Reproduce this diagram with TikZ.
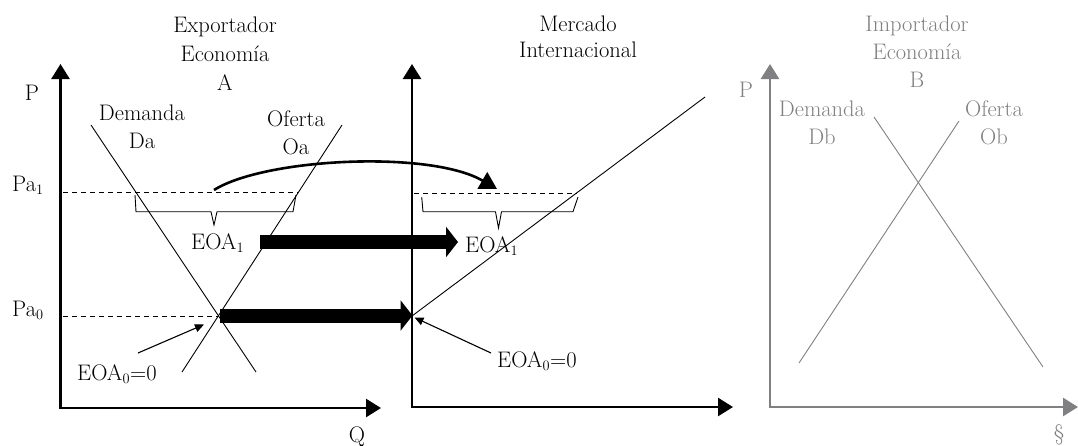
\documentclass[tikz,border=0pt]{standalone}
\usetikzlibrary{arrows.meta}
\definecolor{grayB}{RGB}{128,128,130}
\begin{document}
\begin{tikzpicture}[x=1pt,y=-1pt,
  txt/.style={font=\fontsize{22.5}{28}\selectfont, inner sep=0pt, align=center},
  axisline/.style={line width=2.6pt, {Triangle[length=15pt,width=18pt]}-{Triangle[length=15pt,width=18pt]}},
  curve/.style={line width=0.9pt},
  guide/.style={line width=0.8pt, dash pattern=on 5pt off 4pt},
  bracket/.style={line width=0.9pt, line join=miter},
  fat/.style={line width=14pt, -{Triangle[length=12pt,width=30pt]}},
  thinarrow/.style={line width=1.1pt, -{Triangle[length=9pt,width=8pt]}},
  curvedarrow/.style={line width=2.6pt, -{Triangle[length=17pt,width=19pt]}},
]
\useasboundingbox (0,0) rectangle (1078,445);

% ---------- titles ----------
\node[txt, anchor=north, font=\fontsize{22.5}{29}\selectfont] (tA) at (225,16.4) {Exportador\\Econom\'{\i}a\\A};
\node[txt, anchor=north, font=\fontsize{22.5}{26}\selectfont] (tM) at (578,15.4) {Mercado\\Internacional};
\node[txt, anchor=north, text=grayB] (tB) at (917,16) {Importador\\Econom\'{\i}a\\B};

% ---------- left panel ----------
\coordinate (LY) at (60.5,64);
\coordinate (LO) at (60.5,408);
\coordinate (LX) at (381,408);
\draw[axisline] (LY) -- (LO) -- (LX);
\node[txt, anchor=base] (Pl) at (32,100.7) {P};
\node[txt, anchor=base] (Ql) at (357,442) {Q};

\coordinate (Da1) at (91,125);
\coordinate (Da2) at (256,372);
\coordinate (Oa1) at (342,125);
\coordinate (Oa2) at (182,372);
\draw[curve] (Da1) -- (Da2);
\draw[curve] (Oa1) -- (Oa2);
\node[txt, anchor=north] (lDa) at (142,105) {Demanda\\Da};
\node[txt, anchor=north] (lOa) at (296,110) {Oferta\\Oa};

\node[txt, anchor=base west] (Pa1) at (12,191.7) {Pa$_1$};
\node[txt, anchor=base west] (Pa0) at (12,316) {Pa$_0$};
\coordinate (g1a) at (63,192.5);
\coordinate (g1b) at (298,192.5);
\coordinate (g0a) at (63,316);
\coordinate (g0b) at (218,316);
\draw[guide] (g1a) -- (g1b);
\draw[guide] (g0a) -- (g0b);

\draw[bracket] (135,195) -- (136,211.7) -- (211,211.7) -- (214,225) -- (217,211.7) -- (293,211.7) -- (296,195);
\node[txt, anchor=base west] (EOA1l) at (191,249) {EOA$_1$};
\node[txt, anchor=base west] (EOA0l) at (77,380) {EOA$_0$=0};
\coordinate (e0s) at (138,353);
\coordinate (e0t) at (204,324.5);
\draw[thinarrow] (e0s) -- (e0t);

% ---------- middle panel ----------
\coordinate (MY) at (412,64);
\coordinate (MO) at (412,407);
\coordinate (MX) at (733,407);
\draw[axisline] (MY) -- (MO) -- (MX);
\coordinate (Ms1) at (412,316);
\coordinate (Ms2) at (705,97);
\draw[curve] (Ms1) -- (Ms2);
\coordinate (gma) at (414,193);
\coordinate (gmb) at (577,193);
\draw[guide] (gma) -- (gmb);
\draw[bracket] (421.7,197) -- (423,211.7) -- (495.5,211.7) -- (498.5,228) -- (501.5,211.7) -- (573,211.7) -- (578,197);
\node[txt, anchor=base west] (EOA1m) at (465,252) {EOA$_1$};
\node[txt, anchor=base west] (EOA0m) at (497,367) {EOA$_0$=0};
\coordinate (m0s) at (491,353);
\coordinate (m0t) at (414.5,317.5);
\draw[thinarrow] (m0s) -- (m0t);

% ---------- arrows between panels ----------
\coordinate (cs) at (214,190);
\coordinate (ce) at (497,189);
\draw[curvedarrow] (cs) .. controls (265,158) and (430,150) .. (ce);
\coordinate (f1s) at (260,242);
\coordinate (f1e) at (458,242);
\draw[fat] (f1s) -- (f1e);
\coordinate (f0s) at (220,315.5);
\coordinate (f0e) at (412.5,315.5);
\draw[fat] (f0s) -- (f0e);

% ---------- right panel ----------
\coordinate (RY) at (770,64);
\coordinate (RO) at (770,407);
\coordinate (RX) at (1078,407);
\draw[axisline, color=grayB] (RY) -- (RO) -- (RX);
\node[txt, anchor=base, text=grayB] (Pr) at (746,97) {P};
\node[txt, anchor=base, text=grayB] (Sr) at (1059,440) {\S};
\coordinate (Db1) at (874,117);
\coordinate (Db2) at (1043,367);
\coordinate (Ob1) at (959,121);
\coordinate (Ob2) at (799,363);
\draw[curve, draw=grayB] (Db1) -- (Db2);
\draw[curve, draw=grayB] (Ob1) -- (Ob2);
\node[txt, anchor=north, text=grayB] (lDb) at (822,100.4) {Demanda\\Db};
\node[txt, anchor=north, text=grayB] (lOb) at (994,100.2) {Oferta\\Ob};
\end{tikzpicture}
\end{document}
